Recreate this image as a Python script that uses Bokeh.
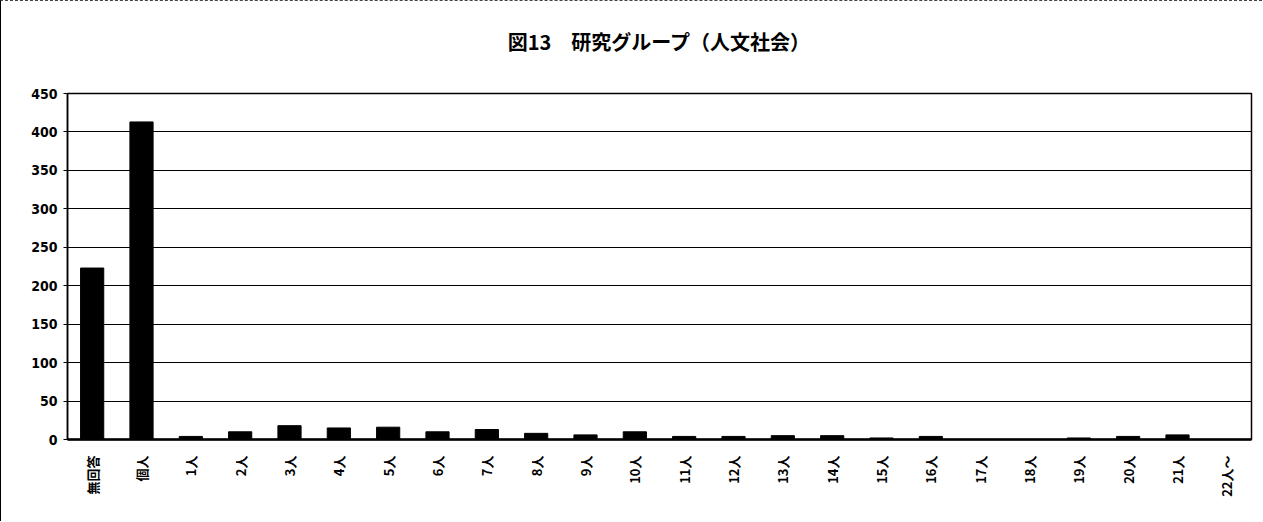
import math

from bokeh.embed import file_html
from bokeh.models import ColumnDataSource, FactorRange, FixedTicker, Range1d, Title
from bokeh.plotting import figure
from bokeh.resources import INLINE

# Research group size (humanities and social sciences), number of responses
categories = ["無回答", "個人", "1人", "2人", "3人", "4人", "5人", "6人", "7人", "8人",
              "9人", "10人", "11人", "12人", "13人", "14人", "15人", "16人", "17人",
              "18人", "19人", "20人", "21人", "22人～"]
counts = [223, 413, 4, 10, 18, 15, 16, 10, 13, 8,
          6, 10, 4, 4, 5, 5, 2, 4, 0,
          0, 2, 4, 6, 0]
y_ticks = [0, 50, 100, 150, 200, 250, 300, 350, 400, 450]

title_text = "図13　研究グループ（人文社会）"

source = ColumnDataSource(data=dict(cat=categories, n=counts))

p = figure(
    width=1262, height=521,
    x_range=FactorRange(*categories, range_padding=0),
    y_range=Range1d(0, 450),
    output_backend="svg",
    toolbar_location=None,
    min_border_left=66, min_border_right=12,
    min_border_top=92, min_border_bottom=83,
    background_fill_color="white",
    border_fill_color="white",
)

p.vbar(x="cat", top="n", width=0.47, source=source,
       fill_color="black", line_color="black")

# Titles in the top panel stack outward: a blank gap first, then the chart title
p.title.text = ""
p.add_layout(Title(text=" ", text_font_size="1px", standoff=35), "above")
p.add_layout(Title(
    text=title_text, align="center",
    text_font="Noto Sans CJK JP", text_font_size="20px",
    text_font_style="bold", text_color="black", standoff=0,
), "above")

# Frame
p.outline_line_color = "black"
p.outline_line_width = 1.5

# Gridlines
p.xgrid.grid_line_color = None
p.ygrid.grid_line_color = "black"
p.ygrid.grid_line_width = 1
p.ygrid.ticker = FixedTicker(ticks=y_ticks)

# Y axis
p.yaxis.ticker = FixedTicker(ticks=y_ticks)
p.yaxis.axis_line_color = "black"
p.yaxis.axis_line_width = 1.5
p.yaxis.major_tick_line_color = "black"
p.yaxis.major_tick_out = 4
p.yaxis.major_tick_in = 0
p.yaxis.minor_tick_line_color = None
p.yaxis.major_label_text_font = "DejaVu Sans Condensed"
p.yaxis.major_label_text_font_style = "bold"
p.yaxis.major_label_text_font_size = "14px"
p.yaxis.major_label_text_color = "black"
p.yaxis.major_label_standoff = 6

# X axis
p.xaxis.axis_line_color = "black"
p.xaxis.axis_line_width = 2.5
p.xaxis.major_tick_line_color = None
p.xaxis.minor_tick_line_color = None
p.xaxis.major_label_orientation = math.pi / 2
p.xaxis.major_label_text_font = "Noto Sans CJK JP"
p.xaxis.major_label_text_font_style = "bold"
p.xaxis.major_label_text_font_size = "13px"
p.xaxis.major_label_text_color = "black"
p.xaxis.major_label_standoff = 10

# Outer chart border on the left and top
p.styles = {"border-left": "1px solid black", "border-top": "1px dashed #444"}

open("out.html", "w").write(file_html(p, INLINE))
